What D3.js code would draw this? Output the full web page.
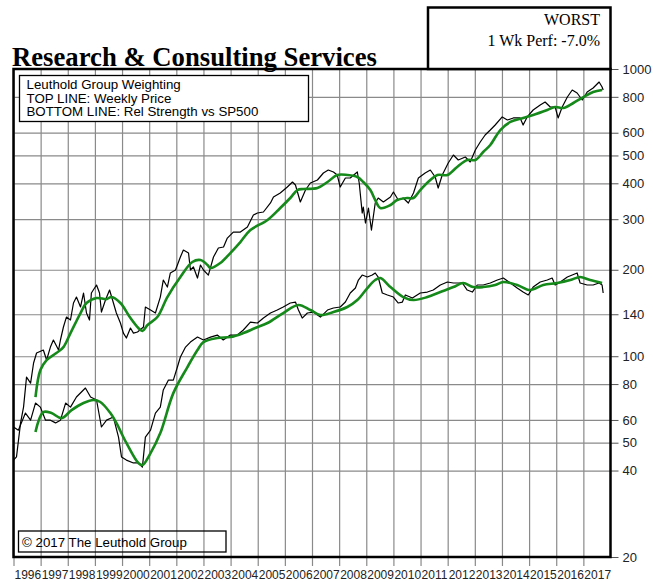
<!DOCTYPE html>
<html>
<head>
<meta charset="utf-8">
<script src="https://cdn.jsdelivr.net/npm/d3@7"></script>
<style>
  html, body { margin: 0; padding: 0; background: #fff; }
  svg { display: block; }
</style>
</head>
<body>
<svg id="chart" width="653" height="582"></svg>
<script>
// ---------- DATA (decimal year, value) ----------
const yearTicks = [1996,1997,1998,1999,2000,2001,2002,2003,2004,2005,2006,2007,2008,2009,2010,2011,2012,2013,2014,2015,2016,2017];
const valueTicks = [20,40,50,60,80,100,140,200,300,400,500,600,800,1000];

const priceWeekly = [
[1996.00,43.5],[1996.11,44.6],[1996.26,58.6],[1996.37,66.5],[1996.48,84.6],[1996.63,80.6],[1996.74,94.7],[1996.85,102.6],
[1997.10,105.1],[1997.22,97.0],[1997.36,107.6],[1997.47,113.9],[1997.66,105.1],[1997.73,113.9],[1997.84,126.4],[1997.95,136.9],
[1998.10,133.7],[1998.21,153.2],[1998.32,160.7],[1998.47,148.4],[1998.58,166.0],[1998.69,141.4],[1998.80,133.7],[1998.87,166.0],
[1999.06,177.0],[1999.17,166.0],[1999.24,142.5],[1999.39,156.9],[1999.54,170.0],[1999.65,156.9],[1999.79,141.4],[1999.94,130.5],
[2000.05,120.4],[2000.16,115.7],[2000.31,125.4],[2000.42,120.4],[2000.57,121.4],[2000.79,126.4],[2000.86,148.4],
[2001.05,144.8],[2001.23,141.4],[2001.41,160.7],[2001.52,184.2],[2001.67,174.1],[2001.78,194.9],[2001.97,199.6],
[2002.15,221.5],[2002.26,234.3],[2002.45,228.7],[2002.52,199.6],[2002.63,204.5],[2002.78,187.2],[2002.89,207.8],
[2003.00,199.6],[2003.18,191.7],[2003.37,221.5],[2003.55,238.1],[2003.74,240.0],[2003.88,257.9],
[2004.10,270.6],[2004.36,270.6],[2004.62,281.7],[2004.84,310.2],[2004.99,315.2],
[2005.21,317.8],[2005.47,341.6],[2005.58,358.4],[2005.83,370.0],
[2006.09,388.2],[2006.28,404.1],[2006.39,394.5],[2006.57,344.4],[2006.76,379.0],[2006.94,400.9],
[2007.20,410.7],[2007.42,434.4],[2007.60,445.0],[2007.79,437.9],[2007.93,427.5],
[2008.04,388.2],[2008.23,417.3],[2008.41,417.3],[2008.67,437.9],[2008.74,400.9],[2008.85,315.2],[2008.89,330.8],[2008.97,290.9],
[2009.08,328.1],[2009.19,275.0],[2009.33,341.6],[2009.44,355.5],[2009.63,344.4],[2009.89,358.4],
[2010.00,372.9],[2010.18,349.9],[2010.36,355.5],[2010.55,341.6],[2010.74,370.0],[2010.92,417.3],
[2011.17,434.4],[2011.36,445.0],[2011.54,420.7],[2011.65,385.1],[2011.80,427.5],
[2012.02,470.8],[2012.21,501.8],[2012.39,482.1],[2012.65,493.9],[2012.83,474.6],
[2013.02,522.4],[2013.20,556.9],[2013.38,589.1],[2013.57,613.2],[2013.75,638.3],
[2014.01,680.8],[2014.20,664.6],[2014.42,675.4],[2014.67,675.4],[2014.78,638.3],[2014.93,680.8],
[2015.15,719.8],[2015.41,749.3],[2015.59,767.6],[2015.78,737.5],[2015.96,737.5],
[2016.07,675.4],[2016.22,737.5],[2016.41,798.8],[2016.59,845.0],[2016.77,824.9],[2016.96,780.0],
[2017.14,831.6],[2017.36,858.7],[2017.58,900.9],[2017.69,865.6],[2017.73,845.0]
];

const priceAvg = [
[1996.81,72.1],[1996.99,89.5],[1997.22,97.0],[1997.58,102.6],[1997.84,107.6],[1998.10,120.4],[1998.47,141.4],[1998.69,153.2],
[1999.06,159.4],[1999.43,158.1],[1999.61,160.7],[1999.94,153.2],[2000.31,135.8],[2000.60,125.4],[2000.75,122.4],[2000.94,128.4],
[2001.30,136.9],[2001.67,160.7],[2002.15,188.7],[2002.59,212.8],[2002.89,216.2],[2003.15,207.8],[2003.26,202.9],[2003.62,211.1],
[2003.99,228.7],[2004.36,249.8],[2004.73,275.0],[2005.36,298.0],[2005.83,328.1],[2006.20,355.5],[2006.46,379.0],[2006.68,382.1],
[2007.20,385.1],[2007.57,404.1],[2007.93,427.5],[2008.30,427.5],[2008.67,420.7],[2008.89,404.1],[2009.15,379.0],[2009.33,349.9],
[2009.52,328.1],[2009.89,336.1],[2010.14,349.9],[2010.51,355.5],[2010.74,355.5],[2010.99,379.0],[2011.36,410.7],[2011.62,427.5],
[2011.99,427.5],[2012.35,455.9],[2012.72,482.1],[2013.02,482.1],[2013.31,514.0],[2013.57,543.8],[2013.94,613.2],[2014.31,654.0],
[2014.78,675.4],[2015.15,691.7],[2015.67,719.8],[2015.96,737.5],[2016.26,731.5],[2016.63,761.4],[2017.00,798.8],[2017.36,831.6],
[2017.69,845.0]
];

const relStrength = [
[1996.00,56.7],[1996.18,55.3],[1996.44,63.4],[1996.63,59.9],[1996.81,68.7],[1996.99,66.5],
[1997.18,59.9],[1997.36,59.9],[1997.55,58.6],[1997.73,59.9],[1997.92,68.7],
[1998.10,66.5],[1998.32,72.1],[1998.65,77.5],[1998.84,72.1],
[1999.06,70.4],[1999.24,56.7],[1999.43,59.9],[1999.68,61.4],[1999.87,52.3],[1999.98,44.6],
[2000.16,43.5],[2000.42,42.5],[2000.60,42.5],[2000.75,41.1],[2000.86,52.3],
[2001.05,55.3],[2001.23,63.4],[2001.41,66.5],[2001.52,76.3],[2001.71,82.6],[2001.89,82.6],
[2002.04,91.7],[2002.15,99.4],[2002.34,107.6],[2002.52,112.0],[2002.78,116.6],
[2003.00,113.9],[2003.26,116.6],[2003.51,118.5],[2003.73,113.9],[2003.99,118.5],
[2004.25,118.5],[2004.47,123.4],[2004.73,131.5],[2004.99,130.5],
[2005.21,135.8],[2005.47,141.4],[2005.72,144.8],[2005.94,148.4],
[2006.20,153.2],[2006.39,154.4],[2006.50,144.8],[2006.64,135.8],[2006.83,141.4],
[2007.05,142.5],[2007.31,136.9],[2007.57,144.8],[2007.79,147.2],
[2008.04,148.4],[2008.23,154.4],[2008.41,166.0],[2008.60,172.8],[2008.71,184.2],[2008.85,191.7],
[2009.04,188.7],[2009.22,191.7],[2009.33,194.9],[2009.44,188.7],[2009.59,166.0],[2009.78,163.4],
[2010.00,160.7],[2010.18,153.2],[2010.33,154.4],[2010.44,163.4],[2010.70,159.4],[2010.99,166.0],
[2011.25,167.3],[2011.47,170.0],[2011.73,177.0],[2011.99,181.3],
[2012.21,179.9],[2012.54,179.9],[2012.72,170.0],[2012.91,167.3],
[2013.09,177.0],[2013.31,177.0],[2013.57,179.9],[2013.83,184.2],
[2014.05,187.2],[2014.31,179.9],[2014.56,172.8],[2014.78,167.3],[2014.97,163.4],
[2015.15,174.1],[2015.41,181.3],[2015.67,184.2],[2015.85,187.2],[2015.96,177.0],
[2016.15,181.3],[2016.41,188.7],[2016.59,191.7],[2016.77,194.9],[2016.88,179.9],
[2017.14,177.0],[2017.36,177.0],[2017.58,179.9],[2017.69,177.0],[2017.73,166.0]
];

const relStrengthAvg = [
[1996.81,54.5],[1997.10,63.9],[1997.40,63.4],[1997.77,60.9],[1998.14,64.9],[1998.58,68.7],[1998.95,70.4],[1999.20,69.3],
[1999.57,63.4],[1999.79,58.6],[2000.16,49.9],[2000.60,42.5],[2000.75,41.8],[2001.05,46.0],[2001.41,54.0],[2001.89,74.4],
[2002.41,91.7],[2002.78,105.1],[2003.00,112.0],[2003.51,115.7],[2003.99,116.6],[2004.47,120.4],[2004.91,125.4],[2005.36,130.5],
[2005.94,141.4],[2006.50,150.8],[2006.94,144.8],[2007.31,139.1],[2007.79,142.5],[2008.30,148.4],[2008.67,156.9],[2009.04,172.8],
[2009.33,184.2],[2009.52,187.2],[2009.89,174.1],[2010.36,160.7],[2010.74,156.9],[2011.25,160.7],[2011.73,167.3],[2012.21,174.1],
[2012.57,179.9],[2012.94,174.1],[2013.31,174.1],[2013.75,177.0],[2014.05,181.3],[2014.56,177.0],[2015.04,170.0],[2015.52,177.0],
[2016.04,179.9],[2016.52,184.2],[2016.88,188.7],[2017.25,184.2],[2017.69,179.9]
];

const titleText = "Research & Consulting Services";
const badgeLines = ["WORST", "1 Wk Perf: -7.0%"];
const legendLines = ["Leuthold Group Weighting", "TOP LINE: Weekly Price", "BOTTOM LINE: Rel Strength vs SP500"];
const copyrightText = "\u00A9 2017 The Leuthold Group";

// ---------- LAYOUT ----------
const L = 13.5, R = 610.5, T = 69, B = 557;
const svg = d3.select("#chart");
const sans = "'Liberation Sans', Arial, sans-serif";
const serif = "'Liberation Serif', 'Times New Roman', serif";

const x = d3.scaleLinear().domain([1996, 2018]).range([L, R]);
const y = d3.scaleLog().domain([20, 1000]).range([B, T]);

// horizontal gridlines
svg.append("g")
  .attr("transform", `translate(${L},0)`)
  .call(d3.axisRight(y).tickValues(valueTicks).tickSize(R - L).tickFormat(""))
  .call(g => g.select(".domain").remove())
  .call(g => g.selectAll("line").attr("stroke", "#8a8a8a").attr("stroke-width", 1.2));

// vertical gridlines + year labels
const xAxis = svg.append("g")
  .attr("transform", `translate(0,566)`)
  .call(d3.axisBottom(x).tickValues(yearTicks).tickSize(-(566 - T)).tickFormat(d3.format("d")))
  .call(g => g.select(".domain").remove());
xAxis.selectAll("line").attr("stroke", "#8a8a8a").attr("stroke-width", 1.2);
xAxis.selectAll("text")
  .attr("y", 4).attr("x", 0.5).attr("dy", "0.71em")
  .attr("text-anchor", "start")
  .attr("fill", "#222")
  .style("font-family", sans).style("font-size", "12px");

// right axis
const yAxis = svg.append("g")
  .attr("transform", `translate(${R},0)`)
  .call(d3.axisRight(y).tickValues(valueTicks).tickSize(8).tickPadding(4).tickFormat(d3.format("d")))
  .call(g => g.select(".domain").remove());
yAxis.selectAll("line").attr("stroke", "#555").attr("stroke-width", 1);
yAxis.selectAll("text")
  .attr("fill", "#222")
  .style("font-family", sans).style("font-size", "13px");

// lines
const line = d3.line().x(d => x(d[0])).y(d => y(d[1]));
const smooth = d3.line().x(d => x(d[0])).y(d => y(d[1])).curve(d3.curveCatmullRom.alpha(0.5));

svg.append("path").datum(priceWeekly).attr("d", line)
  .attr("fill", "none").attr("stroke", "#000").attr("stroke-width", 1.2).attr("stroke-linejoin", "round");
svg.append("path").datum(relStrength).attr("d", line)
  .attr("fill", "none").attr("stroke", "#000").attr("stroke-width", 1.2).attr("stroke-linejoin", "round");
svg.append("path").datum(priceAvg).attr("d", smooth)
  .attr("fill", "none").attr("stroke", "#15891a").attr("stroke-width", 2.6);
svg.append("path").datum(relStrengthAvg).attr("d", smooth)
  .attr("fill", "none").attr("stroke", "#15891a").attr("stroke-width", 2.6);

// plot border
svg.append("rect").attr("x", L).attr("y", T).attr("width", R - L).attr("height", B - T)
  .attr("fill", "none").attr("stroke", "#000").attr("stroke-width", 2.5);

// title
svg.append("text").attr("x", 12).attr("y", 66).text(titleText)
  .style("font-family", serif).style("font-weight", "bold").style("font-size", "26.7px").attr("fill", "#000");

// badge box
svg.append("rect").attr("x", 428).attr("y", 7.5).attr("width", R - 428).attr("height", T - 7.5)
  .attr("fill", "#fff").attr("stroke", "#000").attr("stroke-width", 2.5);
svg.selectAll(".badge").data(badgeLines).join("text")
  .attr("x", 600).attr("y", (d, i) => 25 + i * 21).attr("text-anchor", "end")
  .style("font-family", serif).style("font-size", "16px").attr("fill", "#000").text(d => d);

// legend box
svg.append("rect").attr("x", 19.5).attr("y", 75.5).attr("width", 289).attr("height", 46)
  .attr("fill", "#fff").attr("stroke", "#000").attr("stroke-width", 1.3);
svg.selectAll(".leg").data(legendLines).join("text")
  .attr("x", 26.5).attr("y", (d, i) => 89 + i * 13.5)
  .style("font-family", sans).style("font-size", "13.3px").attr("fill", "#000").text(d => d);

// copyright box
svg.append("rect").attr("x", 18.5).attr("y", 531).attr("width", 207.5).attr("height", 21)
  .attr("fill", "none").attr("stroke", "#000").attr("stroke-width", 1.3);
svg.append("text").attr("x", 22).attr("y", 547)
  .style("font-family", sans).style("font-size", "13.3px").attr("fill", "#000").text(copyrightText);
</script>
</body>
</html>
